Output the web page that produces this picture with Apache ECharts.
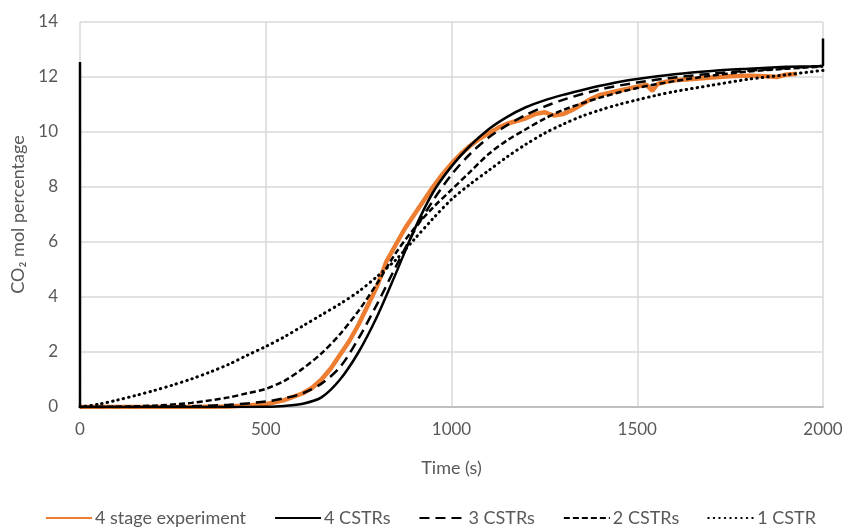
<!DOCTYPE html>
<html>
<head>
<meta charset="utf-8">
<script src="https://cdn.jsdelivr.net/npm/echarts@6/dist/echarts.min.js"></script>
<style>
  html, body { margin: 0; padding: 0; background: #fff; }
  #chart { width: 846px; height: 532px; }
</style>
</head>
<body>
<div id="chart"></div>
<script>
// experiment
const expTime = [0, 100, 200, 300, 400, 500, 550, 600, 625, 650, 675, 700, 725, 750, 775, 800, 825, 850, 875, 900, 925, 950, 975, 1000, 1025, 1050, 1075, 1100, 1125, 1150, 1175, 1200, 1225, 1250, 1275, 1300, 1325, 1350, 1375, 1400, 1450, 1500, 1525, 1540, 1555, 1575, 1600, 1650, 1700, 1750, 1800, 1850, 1875, 1900, 1930];
const expVal = [0, 0, 0, 0, 0.02, 0.1, 0.25, 0.5, 0.7, 1.0, 1.4, 1.9, 2.4, 3.0, 3.7, 4.4, 5.3, 5.9, 6.5, 7.0, 7.5, 8.0, 8.45, 8.85, 9.2, 9.5, 9.75, 9.95, 10.15, 10.3, 10.4, 10.5, 10.65, 10.72, 10.6, 10.65, 10.8, 11.0, 11.2, 11.35, 11.5, 11.65, 11.72, 11.5, 11.75, 11.82, 11.88, 11.93, 11.98, 12.03, 12.05, 12.03, 12.0, 12.08, 12.12];

// 4 CSTRs (includes the vertical jumps at both ends)
const t4 = [0, 0, 100, 200, 300, 400, 500, 550, 600, 650, 700, 750, 800, 850, 900, 950, 1000, 1050, 1100, 1150, 1200, 1250, 1300, 1350, 1400, 1450, 1500, 1600, 1700, 1800, 1900, 2000, 2000];
const v4 = [12.55, 0, 0, 0, 0, 0, 0.01, 0.04, 0.12, 0.35, 1.0, 2.0, 3.3, 4.85, 6.45, 7.8, 8.75, 9.5, 10.1, 10.55, 10.9, 11.15, 11.35, 11.52, 11.68, 11.82, 11.93, 12.1, 12.22, 12.3, 12.37, 12.42, 13.4];

// 3 CSTRs
const t3 = [0, 100, 200, 300, 400, 500, 550, 600, 650, 700, 750, 800, 850, 900, 950, 1000, 1050, 1100, 1150, 1200, 1250, 1300, 1400, 1500, 1600, 1700, 1800, 1900, 2000];
const v3 = [0, 0, 0.01, 0.03, 0.08, 0.2, 0.32, 0.5, 0.85, 1.45, 2.5, 3.75, 5.1, 6.4, 7.5, 8.45, 9.2, 9.8, 10.25, 10.62, 10.92, 11.17, 11.55, 11.8, 11.98, 12.12, 12.23, 12.32, 12.4];

// 2 CSTRs
const t2 = [0, 100, 200, 300, 400, 450, 500, 550, 600, 650, 700, 750, 800, 850, 900, 950, 1000, 1050, 1100, 1150, 1200, 1250, 1300, 1400, 1500, 1600, 1700, 1800, 1900, 2000];
const v2 = [0, 0.01, 0.05, 0.15, 0.35, 0.5, 0.66, 0.95, 1.4, 1.95, 2.65, 3.5, 4.5, 5.6, 6.5, 7.25, 7.9, 8.55, 9.2, 9.7, 10.1, 10.48, 10.8, 11.25, 11.6, 11.85, 12.05, 12.2, 12.3, 12.38];

// 1 CSTR
const t1 = [0, 50, 100, 150, 200, 250, 300, 350, 400, 450, 500, 550, 600, 650, 700, 750, 800, 850, 900, 950, 1000, 1050, 1100, 1150, 1200, 1250, 1300, 1350, 1400, 1450, 1500, 1550, 1600, 1700, 1800, 1900, 2000];
const v1 = [0, 0.1, 0.25, 0.42, 0.6, 0.8, 1.02, 1.27, 1.55, 1.88, 2.2, 2.55, 2.95, 3.35, 3.75, 4.2, 4.75, 5.35, 6.1, 6.85, 7.55, 8.1, 8.6, 9.1, 9.55, 9.95, 10.28, 10.57, 10.8, 11.0, 11.17, 11.33, 11.47, 11.7, 11.92, 12.08, 12.24];

const xTicks = [0, 500, 1000, 1500, 2000];
const yTicks = [0, 2, 4, 6, 8, 10, 12, 14];

function pairs(xs, ys) {
    return xs.map((x, i) => [x, ys[i]]);
}

const font = 'Lato, "Open Sans", sans-serif';
const txt = '#595959';

const chart = echarts.init(document.getElementById('chart'));
chart.setOption({
    animation: false,
    textStyle: { fontFamily: font },
    grid: { left: 80, right: 23, top: 22, bottom: 125 },
    legend: {
        bottom: 0,
        left: 40,
        itemWidth: 46,
        itemHeight: 14,
        itemGap: 28,
        itemStyle: { opacity: 0 },
        textStyle: { fontSize: 18, color: txt, fontFamily: font, padding: [0, 0, 0, -2] },
        data: ['4 stage experiment', '4 CSTRs', '3 CSTRs', '2 CSTRs', '1 CSTR']
    },
    xAxis: {
        type: 'value',
        min: xTicks[0],
        max: xTicks[xTicks.length - 1],
        interval: 500,
        name: 'Time (s)',
        nameLocation: 'middle',
        nameGap: 52,
        nameTextStyle: { fontSize: 18, color: txt },
        axisLine: { show: true, lineStyle: { color: '#bfbfbf', width: 2 } },
        axisTick: { show: false },
        axisLabel: { fontSize: 17, color: txt, margin: 14, formatter: v => String(v) },
        splitLine: { show: true, lineStyle: { color: '#d9d9d9', width: 1.5 } }
    },
    yAxis: {
        type: 'value',
        min: yTicks[0],
        max: yTicks[yTicks.length - 1],
        interval: 2,
        name: 'CO\u2082 mol percentage',
        nameLocation: 'middle',
        nameGap: 52,
        nameTextStyle: { fontSize: 18, color: txt },
        axisLine: { show: false },
        axisTick: { show: false },
        axisLabel: { fontSize: 17, color: txt, margin: 22 },
        splitLine: { show: true, lineStyle: { color: '#d9d9d9', width: 1.5 } }
    },
    series: [
        {
            name: '4 stage experiment', type: 'line', showSymbol: false, symbol: 'none',
            data: pairs(expTime, expVal),
            lineStyle: { color: '#ed7d31', width: 4.5 },
            itemStyle: { color: '#ed7d31' }, z: 2
        },
        {
            name: '4 CSTRs', type: 'line', showSymbol: false, symbol: 'none', smooth: 0.3,
            data: pairs(t4, v4),
            lineStyle: { color: '#000', width: 2.5 },
            itemStyle: { color: '#000' }, z: 3
        },
        {
            name: '3 CSTRs', type: 'line', showSymbol: false, symbol: 'none', smooth: 0.3,
            data: pairs(t3, v3),
            lineStyle: { color: '#000', width: 2.5, type: [10, 6] },
            itemStyle: { color: '#000' }, z: 3
        },
        {
            name: '2 CSTRs', type: 'line', showSymbol: false, symbol: 'none', smooth: 0.3,
            data: pairs(t2, v2),
            lineStyle: { color: '#000', width: 2.5, type: [6, 3] },
            itemStyle: { color: '#000' }, z: 3
        },
        {
            name: '1 CSTR', type: 'line', showSymbol: false, symbol: 'none', smooth: 0.3,
            data: pairs(t1, v1),
            lineStyle: { color: '#000', width: 3, type: [0.5, 5], cap: 'round' },
            itemStyle: { color: '#000' }, z: 3
        }
    ]
});
</script>
</body>
</html>
